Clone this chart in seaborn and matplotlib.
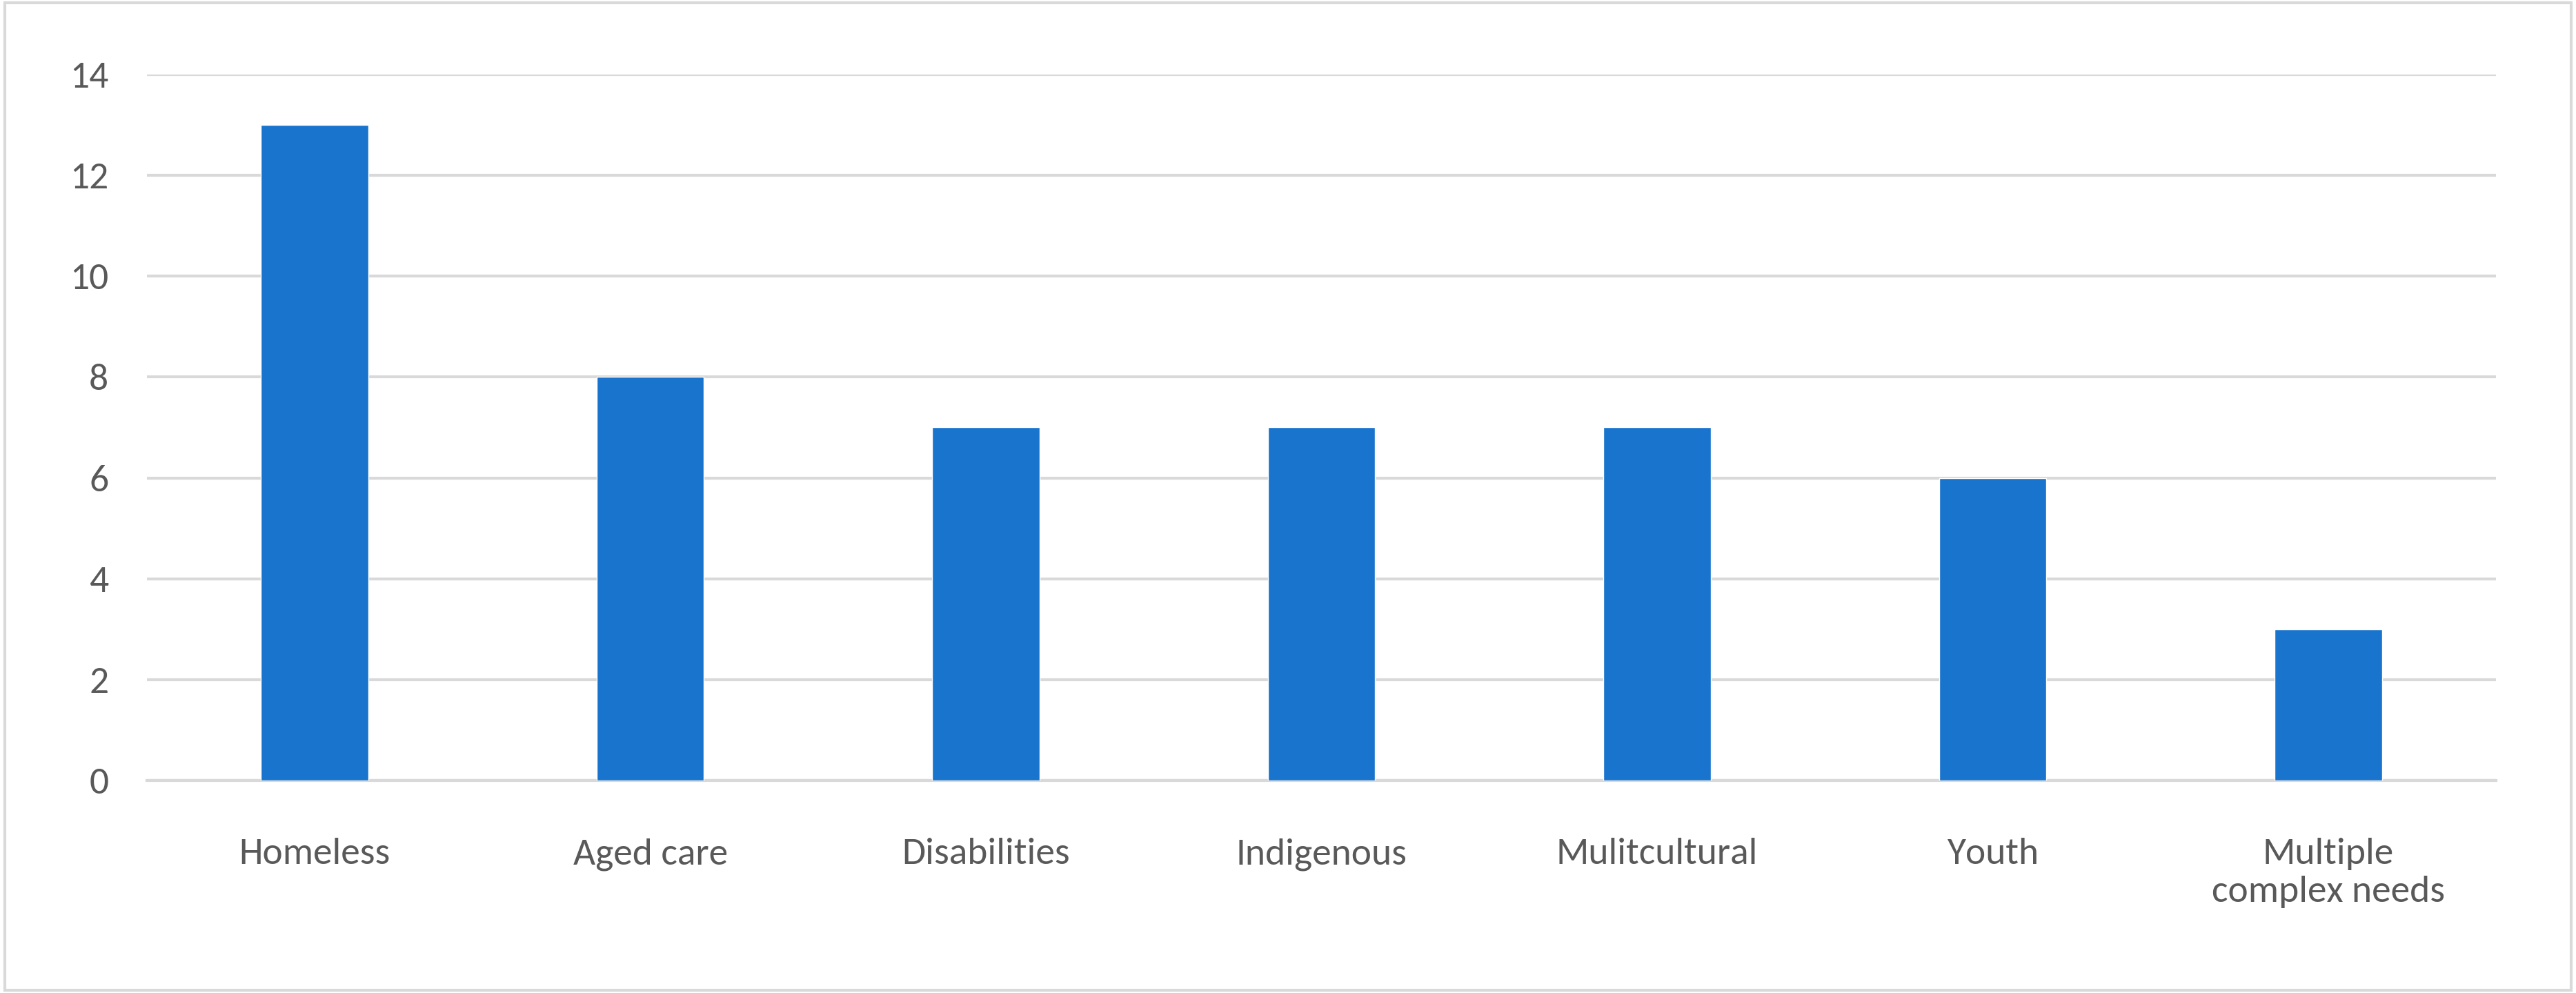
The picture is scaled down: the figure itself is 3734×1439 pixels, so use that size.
import matplotlib
matplotlib.use("Agg")
import matplotlib.pyplot as plt
import seaborn as sns
import pandas as pd

categories = ["Homeless", "Aged care", "Disabilities", "Indigenous", "Mulitcultural", "Youth", "Multiple\ncomplex needs"]
values = [13, 8, 7, 7, 7, 6, 3]
yticks = [0, 2, 4, 6, 8, 10, 12, 14]

sns.set_theme(style="white")
plt.rcParams['font.family'] = ['Calibri', 'Carlito', 'Liberation Sans', 'DejaVu Sans']

df = pd.DataFrame({"cat": categories, "val": values})
fig = plt.figure(figsize=(37.34, 14.39), dpi=100)
ax = fig.add_axes([0.057, 0.214, 0.912, 0.711])
sns.barplot(data=df, x="cat", y="val", color="#1874CD", saturation=1, width=0.32, ax=ax, zorder=3)
ax.set_ylim(0, 14)
ax.set_yticks(yticks)
ax.yaxis.grid(True, color="#D9D9D9", linewidth=3, zorder=0)
for s in ["top", "right", "left"]:
    ax.spines[s].set_visible(False)
ax.spines["bottom"].set_color("#D9D9D9")
ax.spines["bottom"].set_linewidth(3)
ax.set_xlabel("")
ax.set_ylabel("")
ax.tick_params(axis="both", length=0, labelsize=40, colors="#595959")
ax.tick_params(axis="x", pad=60)
ax.tick_params(axis="y", pad=40)
ax.set_xlim(-0.5, len(categories) - 0.5)
fig.patches.append(plt.Rectangle((0.002, 0.003), 0.996, 0.994, transform=fig.transFigure,
                                 fill=False, edgecolor="#D9D9D9", linewidth=3))
fig.savefig("out.png", dpi=100, facecolor="white")
